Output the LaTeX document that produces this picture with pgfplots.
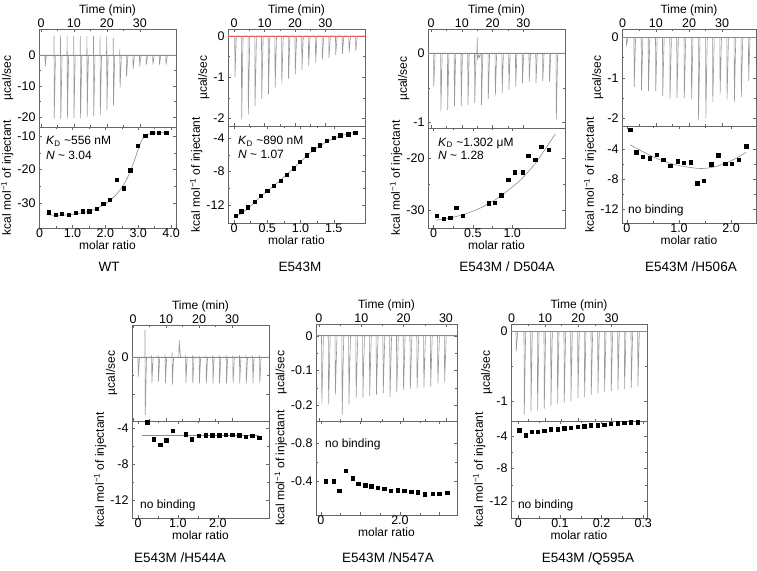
\documentclass[border=0pt]{standalone}
\usepackage{pgfplots}
\pgfplotsset{compat=1.18}
\usepackage{fontspec}
\setmainfont{Liberation Sans}

\definecolor{zeroline}{RGB}{232,96,96}

\pgfplotsset{
  itc/.style={
    scale only axis, anchor=north west,
    axis line style={black!60}, tick style={black!60, line width=0.4pt},
    major tick length=3pt, minor tick length=1.8pt,
    tick align=inside,
    minor x tick num=1, minor y tick num=1,
    ticklabel style={font=\fontsize{12.5}{13}\selectfont},
    xticklabel style={inner sep=1pt},
    label style={font=\fontsize{12}{13}\selectfont},
    xlabel style={inner sep=2pt}, ylabel style={inner sep=0.5pt},
    /pgf/number format/assume math mode=true,
  },
  raw/.style={itc, xticklabel pos=upper, xlabel={Time (min)}, ylabel={µcal/sec}, xtick={0,10,20,30}},
  heat/.style={itc, xlabel={molar ratio}, ylabel={kcal mol\textsuperscript{−1} of injectant}},
  trace/.style={no markers, draw=black!40, line width=0.6pt},
  zero/.style={no markers, draw=zeroline, line width=0.75pt},
  pts/.style={only marks, mark=square*, mark size=1.7pt, black},
  fit/.style={no markers, draw=black!45, line width=0.6pt, smooth},
}
\newcommand{\ann}{\fontsize{12}{13}\selectfont}
\newcommand{\ttl}{\fontsize{13.5}{14}\selectfont}

\begin{document}
\begin{tikzpicture}
\useasboundingbox (0,0) rectangle (757pt,-570pt);

% ---------------- WT ----------------
\begin{axis}[raw, at={(39pt,-29pt)}, width=137pt, height=98pt,
    xmin=-0.6, xmax=41, ymin=-23.2, ymax=8.4, ytick={-20,-10,0}]
  \addplot[trace] coordinates {
    (-0.6,0)(1.2,0)(1.28,-3.7)(1.65,0)
    (3.9,0)(3.95,6.2)(4.02,-20.3)(4.4,0)
    (5.9,0)(5.95,6.3)(6.02,-20.6)(6.4,0)
    (7.9,0)(7.95,6.2)(8.02,-20.5)(8.4,0)
    (9.9,0)(9.95,6.2)(10.02,-20.3)(10.4,0)
    (11.9,0)(11.95,6.1)(12.02,-20.4)(12.4,0)
    (13.9,0)(13.95,6.1)(14.02,-20.0)(14.4,0)
    (15.9,0)(15.95,6.1)(16.02,-19.8)(16.4,0)
    (17.9,0)(17.95,6.0)(18.02,-19.2)(18.4,0)
    (19.9,0)(19.95,6.0)(20.02,-17.9)(20.4,0)
    (21.9,0)(21.95,5.5)(22.02,-16.2)(22.4,0)
    (23.9,0)(23.95,2.0)(24.02,-10.6)(24.4,0)
    (25.9,0)(25.98,-6.9)(26.4,0)
    (27.9,0)(27.98,-4.5)(28.4,0)
    (29.9,0)(29.98,-3.7)(30.4,0)
    (31.9,0)(31.98,-3.1)(32.4,0)
    (33.9,0)(33.98,-3.1)(34.4,0)
    (35.9,0)(35.98,-3.1)(36.4,0)
    (37.9,0)(37.98,-3.1)(38.4,0)(41,0)};
  \addplot[zero] coordinates {(-0.6,0)(41,0)};
\end{axis}
\begin{axis}[heat, at={(39pt,-127pt)}, width=137pt, height=101pt,
    xmin=-0.02, xmax=4.15, ymin=-37.5, ymax=-7.3, ytick={-30,-20,-10},
    xtick={0,1,2,3,4}, xticklabels={0,1.0,2.0,3.0,4.0}]
  \addplot[fit] coordinates {(0.2,-33.5)(0.5,-33.7)(0.8,-33.6)(1.1,-33.3)(1.4,-32.8)
    (1.7,-31.8)(2.0,-30.3)(2.2,-28.8)(2.4,-26.7)(2.6,-23.8)(2.75,-20.8)(2.9,-16.8)
    (3.0,-13.9)(3.1,-11.4)(3.2,-10.0)(3.35,-9.3)(3.6,-9.05)(3.9,-9.0)};
  \addplot[pts] coordinates {(0.27,-32.8)(0.48,-33.5)(0.68,-33.3)(0.88,-33.5)(1.10,-33.0)
    (1.31,-32.5)(1.51,-32.5)(1.73,-31.7)(1.93,-30.2)(2.14,-29.0)(2.34,-23.1)(2.55,-25.6)
    (2.76,-20.2)(2.98,-12.9)(3.21,-9.9)(3.42,-9.0)(3.63,-9.0)(3.85,-9.0)};
  \node[anchor=west, inner sep=0pt] at (rel axis cs:0.05,0.855) {\ann\textit{K}\textsubscript{D} \textasciitilde556 nM};
  \node[anchor=west, inner sep=0pt] at (rel axis cs:0.05,0.72) {\ann\textit{N} \textasciitilde{} 3.04};
\end{axis}
\node[anchor=base] at (109pt,-271pt) {\ttl WT};

% ---------------- E543M ----------------
\begin{axis}[raw, at={(228pt,-29pt)}, width=137pt, height=97pt,
    xmin=-2, xmax=43, ymin=-2.18, ymax=0.17, ytick={-2,-1,0}]
  \addplot[trace] coordinates {
    (-2,0)(0.2,0)(0.28,-0.99)(0.75,0)
    (2.4,0)(2.48,-2.02)(2.95,0)
    (4.6,0)(4.68,-1.90)(5.15,0)
    (6.8,0)(6.88,-1.70)(7.35,0)
    (9.0,0)(9.08,-1.53)(9.55,0)
    (11.2,0)(11.28,-1.42)(11.75,0)
    (13.4,0)(13.48,-1.27)(13.95,0)
    (15.6,0)(15.68,-1.15)(16.15,0)
    (17.8,0)(17.88,-1.03)(18.35,0)
    (20.0,0)(20.08,-0.93)(20.55,0)
    (22.2,0)(22.28,-0.83)(22.75,0)
    (24.4,0)(24.48,-0.73)(24.95,0)
    (26.7,0)(26.78,-0.64)(27.25,0)
    (28.9,0)(28.98,-0.57)(29.45,0)
    (31.1,0)(31.18,-0.53)(31.65,0)
    (33.3,0)(33.38,-0.46)(33.85,0)
    (35.5,0)(35.58,-0.43)(36.05,0)
    (37.7,0)(37.78,-0.40)(38.25,0)
    (39.9,0)(39.98,-0.36)(40.45,0)(43,0)};
  \addplot[zero] coordinates {(-2,0)(43,0)};
\end{axis}
\begin{axis}[heat, at={(228pt,-126pt)}, width=137pt, height=97pt,
    xmin=-0.09, xmax=1.97, ymin=-14.2, ymax=-2.5, ytick={-12,-8,-4},
    xtick={0,0.5,1,1.5}, xticklabels={0,0.5,1.0,1.5}]
  \addplot[fit] coordinates {(0.0,-13.5)(0.1,-13.1)(0.2,-12.5)(0.3,-11.8)(0.4,-11.0)
    (0.6,-9.7)(0.8,-8.3)(1.0,-6.8)(1.2,-5.4)(1.4,-4.4)(1.6,-3.7)(1.85,-3.2)};
  \addplot[pts] coordinates {(0.03,-13.3)(0.11,-12.8)(0.21,-12.3)(0.31,-11.6)(0.40,-10.9)
    (0.50,-10.3)(0.60,-9.7)(0.70,-9.1)(0.79,-8.4)(0.90,-7.6)(0.99,-6.8)(1.09,-6.0)
    (1.19,-5.3)(1.29,-4.8)(1.39,-4.3)(1.50,-3.9)(1.60,-3.6)(1.72,-3.5)(1.82,-3.3)};
  \node[anchor=west, inner sep=0pt] at (rel axis cs:0.073,0.845) {\ann\textit{K}\textsubscript{D} \textasciitilde890 nM};
  \node[anchor=west, inner sep=0pt] at (rel axis cs:0.073,0.71) {\ann\textit{N} \textasciitilde{} 1.07};
\end{axis}
\node[anchor=base] at (300pt,-271pt) {\ttl E543M};

% ---------------- E543M / D504A ----------------
\begin{axis}[raw, at={(428pt,-29pt)}, width=137pt, height=99pt,
    xmin=-1, xmax=43.5, ymin=-1.08, ymax=0.35, ytick={-1,0}]
  \addplot[trace] coordinates {
    (-1,0)(0.8,0)(0.88,-0.47)(1.3,0)
    (3.1,0)(3.18,-0.84)(3.6,0)
    (5.3,0)(5.38,-0.82)(5.8,0)
    (7.5,0)(7.58,-0.77)(8.0,0)
    (9.7,0)(9.78,-0.76)(10.2,0)
    (11.9,0)(11.98,-0.75)(12.4,0)
    (14.1,0)(14.18,-0.72)(14.6,0)(14.9,0)(14.97,0.24)(15.05,-0.08)(15.4,-0.03)(15.7,-0.06)(16.0,0)
    (16.3,0)(16.38,-0.75)(16.8,0)
    (18.5,0)(18.58,-0.66)(19.0,0)
    (20.8,0)(20.88,-0.61)(21.3,0)
    (23.0,0)(23.08,-0.58)(23.5,0)
    (25.2,0)(25.28,-0.53)(25.7,0)
    (27.4,0)(27.48,-0.48)(27.9,0)
    (29.6,0)(29.68,-0.43)(30.1,0)
    (31.8,0)(31.88,-0.41)(32.3,0)
    (34.0,0)(34.08,-0.43)(34.5,0)
    (36.2,0)(36.28,-0.40)(36.7,0)
    (38.4,0)(38.48,-0.41)(38.9,0)
    (40.6,0)(40.68,-0.96)(41.1,0)(43.5,0)};
  \addplot[zero] coordinates {(-1,0)(43.5,0)};
\end{axis}
\begin{axis}[heat, at={(428pt,-128pt)}, width=137pt, height=100pt,
    xmin=-0.07, xmax=1.67, ymin=-33.4, ymax=-14.1, ytick={-30,-20},
    xtick={0,0.5,1}, xticklabels={0,0.5,1.0}]
  \addplot[fit] coordinates {(0.03,-31.9)(0.2,-31.5)(0.4,-30.7)(0.6,-29.5)(0.8,-27.8)
    (1.0,-25.5)(1.1,-24.2)(1.2,-22.6)(1.3,-20.8)(1.4,-18.6)(1.5,-16.3)(1.55,-15.2)};
  \addplot[pts] coordinates {(0.04,-31.0)(0.13,-31.6)(0.21,-31.4)(0.29,-29.5)(0.37,-31.0)
    (0.70,-28.6)(0.78,-28.5)(0.86,-27.1)(0.95,-24.1)(1.03,-22.6)(1.13,-22.6)(1.20,-19.4)
    (1.29,-20.2)(1.37,-17.7)(1.46,-18.3)};
  \node[anchor=west, inner sep=0pt] at (rel axis cs:0.073,0.85) {\ann\textit{K}\textsubscript{D} \textasciitilde1.302 μM};
  \node[anchor=west, inner sep=0pt] at (rel axis cs:0.073,0.723) {\ann\textit{N} \textasciitilde{} 1.28};
\end{axis}
\node[anchor=base] at (507pt,-271pt) {\ttl E543M / D504A};

% ---------------- E543M / H506A ----------------
\begin{axis}[raw, at={(622pt,-29pt)}, width=134pt, height=97pt,
    xmin=-0.2, xmax=40.2, ymin=-2.19, ymax=0.21, ytick={-2,-1,0}]
  \addplot[trace] coordinates {
    (-0.2,0)(1.1,0)(1.18,-0.19)(1.6,0)
    (3.4,0)(3.48,-1.22)(3.9,0)
    (5.6,0)(5.68,-1.31)(6.1,0)
    (7.7,0)(7.78,-1.32)(8.2,0)
    (9.9,0)(9.98,-1.32)(10.4,0)
    (12.0,0)(12.08,-1.45)(12.5,0)
    (14.2,0)(14.28,-1.51)(14.7,0)
    (16.3,0)(16.38,-1.50)(16.8,0)
    (18.5,0)(18.58,-1.50)(19.0,0)
    (20.7,0)(20.78,-1.53)(21.2,0)
    (22.8,0)(22.88,-2.05)(23.3,0)
    (25.0,0)(25.08,-2.01)(25.5,0)
    (27.1,0)(27.18,-1.60)(27.6,0)
    (29.3,0)(29.38,-1.40)(29.8,0)
    (31.4,0)(31.48,-1.53)(31.9,0)
    (33.6,0)(33.68,-1.60)(34.1,0)
    (35.7,0)(35.78,-1.47)(36.2,0)
    (37.9,0)(37.98,-1.08)(38.4,0)(40.2,0)};
  \addplot[zero] coordinates {(-0.2,0)(40.2,0)};
\end{axis}
\begin{axis}[heat, at={(622pt,-126pt)}, width=134pt, height=97pt,
    xmin=-0.095, xmax=2.48, ymin=-13.8, ymax=-0.9, ytick={-12,-8,-4},
    xtick={0,1,2}, xticklabels={0,1.0,2.0}]
  \addplot[fit] coordinates {(0.06,-3.4)(0.3,-4.3)(0.6,-5.3)(0.9,-6.0)(1.2,-6.4)
    (1.45,-6.55)(1.7,-6.3)(1.95,-5.7)(2.15,-5.0)(2.29,-4.4)};
  \addplot[pts] coordinates {(0.06,-1.4)(0.18,-4.4)(0.30,-5.0)(0.44,-5.2)(0.57,-4.7)
    (0.70,-5.4)(0.83,-6.2)(0.97,-5.6)(1.09,-5.8)(1.23,-5.7)(1.35,-8.5)(1.48,-8.2)
    (1.62,-6.0)(1.75,-4.8)(1.89,-5.9)(2.01,-5.9)(2.15,-5.4)(2.29,-3.6)};
  \node[anchor=west, inner sep=0pt] at (rel axis cs:0.045,0.127) {\ann no binding};
\end{axis}
\node[anchor=base] at (691pt,-271pt) {\ttl E543M /H506A};

% ---------------- E543M / H544A ----------------
\begin{axis}[raw, at={(132pt,-325pt)}, width=137pt, height=96pt,
    xmin=-0.3, xmax=41.2, ymin=-1.74, ymax=0.88, ytick={-1,0}, yticklabels={,0}]
  \addplot[trace] coordinates {
    (-0.3,0)(1.5,0)(1.58,-0.53)(2.0,0)
    (3.6,0)(3.65,0.75)(3.72,-1.57)(4.1,0)
    (5.6,0)(5.65,0.05)(5.72,-0.71)(6.1,0)
    (7.6,0)(7.65,0.05)(7.72,-0.66)(8.1,0)
    (9.7,0)(9.75,0.08)(9.82,-0.71)(10.2,0)
    (11.8,0)(11.85,0.15)(11.92,-0.75)(12.3,0)
    (13.9,0)(13.98,0.47)(14.4,0)
    (15.9,0)(15.95,0.05)(16.02,-0.71)(16.4,0)
    (18.0,0)(18.05,0.05)(18.12,-0.71)(18.5,0)
    (20.0,0)(20.05,0.05)(20.12,-0.71)(20.5,0)
    (22.1,0)(22.15,0.05)(22.22,-0.71)(22.6,0)
    (24.1,0)(24.15,0.05)(24.22,-0.71)(24.6,0)
    (26.1,0)(26.15,0.05)(26.22,-0.71)(26.6,0)
    (28.2,0)(28.25,0.05)(28.32,-0.71)(28.7,0)
    (30.2,0)(30.25,0.05)(30.32,-0.71)(30.7,0)
    (32.2,0)(32.25,0.05)(32.32,-0.71)(32.7,0)
    (34.2,0)(34.25,0.05)(34.32,-0.71)(34.7,0)
    (36.2,0)(36.25,0.05)(36.32,-0.71)(36.7,0)
    (38.3,0)(38.35,0.05)(38.42,-0.71)(38.8,0)(41.2,0)};
  \addplot[zero] coordinates {(-0.3,0)(41.2,0)};
\end{axis}
\begin{axis}[heat, at={(132pt,-421pt)}, width=137pt, height=97pt,
    xmin=-0.15, xmax=3.28, ymin=-13.96, ymax=-3.26, ytick={-12,-8,-4},
    xtick={0,1,2}, xticklabels={0,1.0,2.0}]
  \addplot[fit] coordinates {(0.1,-4.85)(3.03,-4.85)};
  \addplot[pts] coordinates {(0.23,-3.41)(0.39,-5.25)(0.56,-5.85)(0.71,-5.37)(0.875,-4.33)
    (1.19,-4.70)(1.35,-5.25)(1.52,-4.89)(1.69,-4.81)(1.86,-4.81)(2.03,-4.81)(2.19,-4.74)
    (2.36,-4.74)(2.53,-4.81)(2.69,-4.96)(2.86,-4.89)(3.03,-5.11)};
  \node[anchor=west, inner sep=0pt] at (rel axis cs:0.058,0.127) {\ann no binding};
\end{axis}
\node[anchor=base] at (180pt,-562pt) {\ttl E543M /H544A};

% ---------------- E543M / N547A ----------------
\begin{axis}[raw, at={(316pt,-324pt)}, width=141pt, height=97pt,
    xmin=-0.7, xmax=32.6, ymin=-0.246, ymax=0.034, ytick={-0.2,-0.1,0}]
  \addplot[trace] coordinates {
    (-0.7,0)(0.6,0)(0.68,-0.195)(1.05,0)
    (2.2,0)(2.28,-0.198)(2.65,0)
    (3.8,0)(3.88,-0.169)(4.25,0)
    (5.4,0)(5.48,-0.229)(5.85,0)
    (7.0,0)(7.08,-0.198)(7.45,0)
    (8.7,0)(8.78,-0.181)(9.15,0)
    (10.3,0)(10.38,-0.179)(10.75,0)
    (11.9,0)(11.98,-0.173)(12.35,0)
    (13.5,0)(13.58,-0.170)(13.95,0)
    (15.1,0)(15.18,-0.166)(15.55,0)
    (16.7,0)(16.78,-0.176)(17.15,0)
    (18.3,0)(18.38,-0.163)(18.75,0)
    (19.9,0)(19.98,-0.157)(20.35,0)
    (21.5,0)(21.58,-0.154)(21.95,0)
    (23.1,0)(23.18,-0.152)(23.55,0)
    (24.7,0)(24.78,-0.150)(25.15,0)
    (26.3,0)(26.38,-0.147)(26.75,0)
    (28.0,0)(28.08,-0.137)(28.45,0)
    (29.6,0)(29.68,-0.133)(30.05,0)(32.6,0)};
  \addplot[zero] coordinates {(-0.7,0)(32.6,0)};
\end{axis}
\begin{axis}[heat, at={(316pt,-421pt)}, width=141pt, height=94pt,
    xmin=-0.12, xmax=3.44, ymin=-1.027, ymax=-0.045, y dir=reverse,
    ytick={-0.8,-0.4}, xtick={0,1,2,3}, xticklabels={0,,2.0,}]
  \addplot[pts] coordinates {(0.13,-0.400)(0.32,-0.400)(0.47,-0.296)(0.63,-0.505)(0.80,-0.428)
    (0.95,-0.369)(1.12,-0.358)(1.27,-0.348)(1.44,-0.330)(1.60,-0.317)(1.77,-0.296)
    (1.94,-0.306)(2.11,-0.296)(2.28,-0.289)(2.45,-0.282)(2.63,-0.261)(2.82,-0.268)
    (2.99,-0.265)(3.19,-0.275)};
  \node[anchor=west, inner sep=0pt] at (rel axis cs:0.064,0.755) {\ann no binding};
\end{axis}
\node[anchor=base] at (388pt,-562pt) {\ttl E543M /N547A};

% ---------------- E543M / Q595A ----------------
\begin{axis}[raw, at={(511pt,-324pt)}, width=136pt, height=97pt,
    xmin=-0.2, xmax=40.6, ymin=-1.29, ymax=0.11, ytick={-1,0}]
  \addplot[trace] coordinates {
    (-0.2,0)(1.3,0)(1.38,-0.28)(1.8,0)
    (3.7,0)(3.78,-1.19)(4.2,0)
    (5.7,0)(5.78,-1.15)(6.2,0)
    (7.7,0)(7.78,-1.14)(8.2,0)
    (9.7,0)(9.78,-1.11)(10.2,0)
    (11.7,0)(11.78,-1.07)(12.2,0)
    (13.7,0)(13.78,-1.04)(14.2,0)
    (15.7,0)(15.78,-1.02)(16.2,0)
    (17.7,0)(17.78,-1.00)(18.2,0)
    (19.8,0)(19.88,-0.96)(20.3,0)
    (21.8,0)(21.88,-0.94)(22.3,0)
    (23.8,0)(23.88,-0.91)(24.3,0)
    (25.8,0)(25.88,-0.89)(26.3,0)
    (27.8,0)(27.88,-0.875)(28.3,0)
    (29.8,0)(29.88,-0.86)(30.3,0)
    (31.8,0)(31.88,-0.84)(32.3,0)
    (33.8,0)(33.88,-0.83)(34.3,0)
    (35.8,0)(35.88,-0.81)(36.3,0)
    (37.8,0)(37.88,-0.79)(38.3,0)(40.6,0)};
  \addplot[zero] coordinates {(-0.2,0)(40.6,0)};
\end{axis}
\begin{axis}[heat, at={(511pt,-421pt)}, width=136pt, height=97pt,
    xmin=-0.0175, xmax=0.309, ymin=-14.1, ymax=-2.15, ytick={-12,-8,-4},
    xtick={0,0.1,0.2,0.3}, xticklabels={0,0.1,0.2,0.3}]
  \addplot[pts] coordinates {(0.002,-3.26)(0.018,-3.88)(0.032,-3.47)(0.047,-3.47)(0.062,-3.34)
    (0.078,-3.18)(0.094,-3.14)(0.110,-3.06)(0.126,-2.98)(0.143,-2.85)(0.158,-2.77)
    (0.174,-2.69)(0.190,-2.65)(0.206,-2.57)(0.222,-2.48)(0.238,-2.40)(0.254,-2.36)
    (0.270,-2.32)(0.287,-2.28)};
  \node[anchor=west, inner sep=0pt] at (rel axis cs:0.05,0.134) {\ann no binding};
\end{axis}
\node[anchor=base] at (588pt,-562pt) {\ttl E543M /Q595A};

\end{tikzpicture}
\end{document}
